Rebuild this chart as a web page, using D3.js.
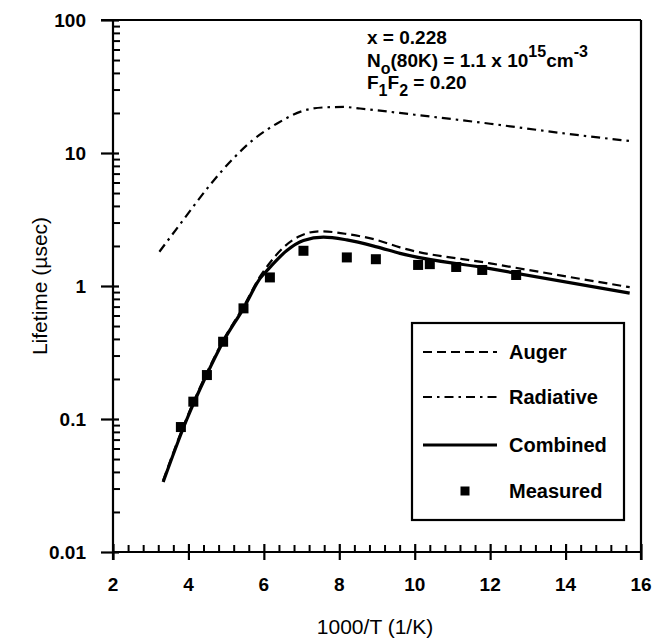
<!DOCTYPE html>
<html>
<head>
<meta charset="utf-8">
<script src="https://cdn.jsdelivr.net/npm/d3@7"></script>
<style>
  body { margin: 0; background: #fff; }
  text { font-family: "Liberation Sans", Arial, sans-serif; fill: #000; }
</style>
</head>
<body>
<div id="chart"></div>
<script>
// data
const augerX = [3.33, 3.95, 4.48, 4.92, 5.46, 5.9, 6.1, 6.52, 6.96, 7.49, 8.2, 8.99, 9.61, 12, 15.7];
const augerY = [0.0345, 0.101, 0.22, 0.39, 0.7, 1.18, 1.42, 1.95, 2.38, 2.58, 2.46, 2.22, 1.95, 1.48, 0.98];

const radX = [3.23, 3.86, 4.57, 5.19, 5.72, 6.34, 7.05, 7.58, 8.11, 8.55, 10, 12, 14, 15.7];
const radY = [1.81, 3.13, 5.74, 9.1, 12.6, 16.6, 20.8, 22.0, 22.2, 21.6, 19.4, 16.6, 14.0, 12.3];

const combX = [3.33, 3.95, 4.48, 4.92, 5.46, 5.9, 6.16, 6.61, 7.05, 7.58, 8.2, 8.99, 9.61, 12, 15.7];
const combY = [0.0336, 0.0983, 0.214, 0.381, 0.679, 1.14, 1.38, 1.85, 2.2, 2.33, 2.22, 1.97, 1.76, 1.35, 0.885];

const measX = [3.8, 4.13, 4.49, 4.92, 5.46, 6.16, 7.05, 8.2, 8.97, 10.09, 10.4, 11.1, 11.79, 12.69];
const measY = [0.087, 0.135, 0.214, 0.381, 0.679, 1.16, 1.84, 1.64, 1.59, 1.44, 1.46, 1.39, 1.32, 1.21];

const xTicks = [2, 4, 6, 8, 10, 12, 14, 16];
const yTicks = [0.01, 0.1, 1, 10, 100];
const yTickLabels = ["0.01", "0.1", "1", "10", "100"];

const legendNames = ["Auger", "Radiative", "Combined", "Measured"];

const width = 668, height = 640;
const margin = { left: 113, right: 27, top: 20, bottom: 88 };

const svg = d3.select("#chart").append("svg")
  .attr("width", width)
  .attr("height", height);

const x = d3.scaleLinear().domain([2, 16]).range([margin.left, width - margin.right]);
const y = d3.scaleLog().domain([0.01, 100]).range([height - margin.bottom, margin.top]);

const x0 = x.range()[0], x1 = x.range()[1];
const y0 = y.range()[0], y1 = y.range()[1];

// minor tick positions
const xMinor = d3.range(2, 16.001, 0.4).filter(v => Math.abs(v / 2 - Math.round(v / 2)) > 0.01);
const yMinor = [];
for (let e = -2; e < 2; e++) {
  for (let m = 2; m <= 9; m++) yMinor.push(m * Math.pow(10, e));
}

// an axis group with no domain path and no labels, only tick lines
function tickAxis(axis, transform, sw) {
  const g = svg.append("g").attr("transform", transform).call(axis);
  g.select(".domain").remove();
  g.selectAll("text").remove();
  g.selectAll("line").attr("stroke", "#000").attr("stroke-width", sw);
  return g;
}

// x ticks: major ones cross the axis, minor ones point inside
tickAxis(d3.axisBottom(x).tickValues(xTicks).tickSize(8), `translate(0,${y0})`, 2.2);
tickAxis(d3.axisBottom(x).tickValues(xTicks).tickSize(-8), `translate(0,${y0})`, 2.2);
tickAxis(d3.axisBottom(x).tickValues(xMinor).tickSize(-7), `translate(0,${y0})`, 2);

// y ticks: major ones longer outside, minor inside
tickAxis(d3.axisLeft(y).tickValues(yTicks).tickSize(12), `translate(${x0},0)`, 2.2);
tickAxis(d3.axisLeft(y).tickValues(yTicks).tickSize(-6), `translate(${x0},0)`, 2.2);
tickAxis(d3.axisLeft(y).tickValues(yMinor).tickSize(-7), `translate(${x0},0)`, 2);

// frame
const frame = svg.append("g").attr("stroke", "#000").attr("stroke-width", 2.2);
frame.append("line").attr("x1", x0).attr("x2", x0).attr("y1", y1).attr("y2", y0 + 8);
frame.append("line").attr("x1", x0).attr("x2", x1).attr("y1", y0).attr("y2", y0);
frame.append("line").attr("x1", x0 - 12).attr("x2", x1).attr("y1", y1).attr("y2", y1);
frame.append("line").attr("x1", x1).attr("x2", x1).attr("y1", y1).attr("y2", y0 + 8);

svg.append("g").selectAll("text").data(xTicks).join("text")
  .attr("x", d => x(d))
  .attr("y", y0 + 39)
  .attr("text-anchor", "middle")
  .style("font-size", "19px")
  .style("font-weight", "bold")
  .text(d => d);

svg.append("g").selectAll("text").data(yTicks).join("text")
  .attr("x", x0 - 27)
  .attr("y", d => y(d) + 7)
  .attr("text-anchor", "end")
  .style("font-size", "19px")
  .style("font-weight", "bold")
  .text((d, i) => yTickLabels[i]);

// axis titles
svg.append("text")
  .attr("x", (x0 + x1) / 2 - 2)
  .attr("y", y0 + 82)
  .attr("text-anchor", "middle")
  .style("font-size", "21px")
  .text("1000/T (1/K)");

svg.append("text")
  .attr("transform", "translate(47," + ((y0 + y1) / 2) + ") rotate(-90)")
  .attr("text-anchor", "middle")
  .style("font-size", "21px")
  .text("Lifetime (\u00b5sec)");

// curves
const line = d3.line()
  .x(d => x(d[0]))
  .y(d => y(d[1]))
  .curve(d3.curveMonotoneX);

const zip = (a, b) => a.map((v, i) => [v, b[i]]);

const plot = svg.append("g").attr("fill", "none").attr("stroke", "#000");
plot.append("path").datum(zip(radX, radY))
  .attr("d", line).attr("stroke-width", 2.2)
  .attr("stroke-dasharray", "9,5,2.5,5");
plot.append("path").datum(zip(augerX, augerY))
  .attr("d", line).attr("stroke-width", 2.2)
  .attr("stroke-dasharray", "9,5");
plot.append("path").datum(zip(combX, combY))
  .attr("d", line).attr("stroke-width", 3.2);

const sq = 10;
svg.append("g").selectAll("rect").data(zip(measX, measY)).join("rect")
  .attr("x", d => x(d[0]) - sq / 2)
  .attr("y", d => y(d[1]) - sq / 2)
  .attr("width", sq).attr("height", sq)
  .attr("fill", "#000");

// annotation
const ann = svg.append("g").style("font-size", "19px").style("font-weight", "bold");
ann.append("text").attr("x", 367).attr("y", 44).text("x = 0.228");
const t2 = ann.append("text").attr("x", 367).attr("y", 67);
t2.append("tspan").text("N");
t2.append("tspan").attr("dy", 7).style("font-size", "16px").text("o");
t2.append("tspan").attr("dy", -7).text("(80K) = 1.1 x 10");
t2.append("tspan").attr("dy", -10).style("font-size", "16px").text("15");
t2.append("tspan").attr("dy", 10).text("cm");
t2.append("tspan").attr("dy", -10).style("font-size", "16px").text("-3");
const t3 = ann.append("text").attr("x", 367).attr("y", 89);
t3.append("tspan").text("F");
t3.append("tspan").attr("dy", 7).style("font-size", "16px").text("1");
t3.append("tspan").attr("dy", -7).text("F");
t3.append("tspan").attr("dy", 7).style("font-size", "16px").text("2");
t3.append("tspan").attr("dy", -7).text(" = 0.20");

// legend
const leg = svg.append("g");
leg.append("rect")
  .attr("x", 412).attr("y", 323).attr("width", 212).attr("height", 197)
  .attr("fill", "#fff").attr("stroke", "#000").attr("stroke-width", 2.2);

const legY = [352, 397, 445, 491];
const legDash = ["9,5", "9,5,2.5,5", null, null];
const legW = [2.2, 2.2, 3.2, 0];
legendNames.forEach((name, i) => {
  if (i < 3) {
    leg.append("line")
      .attr("x1", 423).attr("x2", 497)
      .attr("y1", legY[i]).attr("y2", legY[i])
      .attr("stroke", "#000").attr("stroke-width", legW[i])
      .attr("stroke-dasharray", legDash[i]);
  } else {
    leg.append("rect")
      .attr("x", 465 - 4.5).attr("y", legY[i] - 4.5)
      .attr("width", 9).attr("height", 9).attr("fill", "#000");
  }
  leg.append("text")
    .attr("x", 509).attr("y", legY[i] + 7)
    .style("font-size", "20px").style("font-weight", "bold")
    .text(name);
});
</script>
</body>
</html>
